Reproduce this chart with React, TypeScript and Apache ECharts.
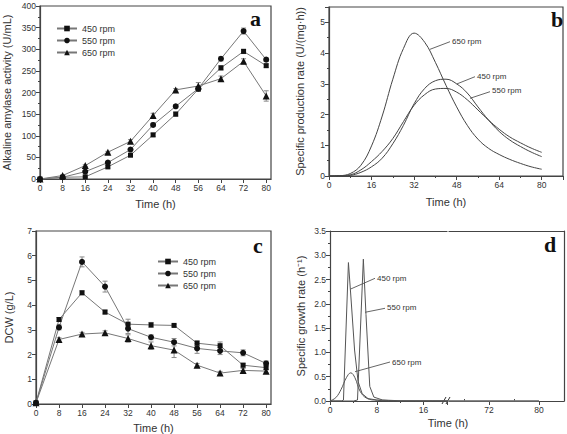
import React, { useEffect, useRef } from "react";
import * as echarts from "echarts";

// ---------- data ----------
const hours = [0, 8, 16, 24, 32, 40, 48, 56, 64, 72, 80];
const rpmNames = ["450 rpm", "550 rpm", "650 rpm"];

// (a) alkaline amylase activity (U/mL)
const activity450 = [0, 4, 5, 28, 55, 102, 150, 208, 257, 295, 262];
const activity550 = [0, 4, 17, 38, 68, 125, 168, 209, 278, 342, 276];
const activity650 = [0, 8, 31, 62, 87, 147, 206, 215, 232, 272, 192];
const activityErr450 = [0, 1, 2, 3, 3, 4, 5, 5, 5, 5, 4];
const activityErr550 = [0, 1, 2, 3, 3, 4, 4, 4, 5, 7, 4];
const activityErr650 = [0, 1, 2, 2, 4, 5, 3, 8, 6, 6, 12];

// (b) specific production rate (U/(mg·h))
const rateHours = [0, 4, 8, 12, 16, 20, 24, 28, 32, 36, 40, 44, 48, 52, 56, 60, 64, 68, 72, 76, 80];
const rate450 = [0, 0, 0.02, 0.12, 0.3, 0.58, 1.05, 1.65, 2.35, 2.85, 3.1, 3.15, 3.0, 2.7, 2.25, 1.82, 1.45, 1.17, 0.96, 0.78, 0.63];
const rate550 = [0, 0.01, 0.04, 0.2, 0.47, 0.8, 1.22, 1.77, 2.3, 2.65, 2.83, 2.85, 2.73, 2.48, 2.15, 1.82, 1.52, 1.27, 1.08, 0.91, 0.77];
const rate650 = [0, 0.01, 0.08, 0.35, 0.98, 1.95, 3.15, 4.15, 4.65, 4.35, 3.7, 2.95, 2.25, 1.65, 1.2, 0.9, 0.7, 0.54, 0.41, 0.3, 0.22];

// (c) DCW (g/L)
const dcw450 = [0.05, 3.42, 4.5, 3.72, 3.23, 3.2, 3.18, 2.46, 2.36, 1.57, 1.47];
const dcw550 = [0.05, 3.1, 5.75, 4.75, 3.05, 2.7, 2.5, 2.25, 2.15, 2.07, 1.64];
const dcw650 = [0.05, 2.61, 2.83, 2.88, 2.65, 2.36, 2.18, 1.57, 1.25, 1.36, 1.33];
const dcwErr450 = [0, 0.08, 0.08, 0.08, 0.2, 0.1, 0.05, 0.1, 0.15, 0.08, 0.08];
const dcwErr550 = [0, 0.1, 0.2, 0.22, 0.2, 0.1, 0.15, 0.2, 0.15, 0.12, 0.1];
const dcwErr650 = [0, 0.07, 0.07, 0.08, 0.15, 0.15, 0.3, 0.07, 0.07, 0.08, 0.07];

// (d) specific growth rate (h-1)
const growthT450 = [0, 1, 2, 2.3, 3.15, 3.6, 4.2, 4.8, 5.5, 6.5, 8, 10, 12, 24, 80];
const growth450 = [0, 0, 0, 0.02, 2.85, 2.1, 1.05, 0.4, 0.15, 0.05, 0.02, 0.01, 0, 0, 0];
const growthT550 = [0, 4, 4.7, 5.7, 6.15, 6.8, 7.5, 9, 12, 24, 80];
const growth550 = [0, 0, 0.02, 2.92, 1.78, 0.3, 0.08, 0.02, 0.005, 0, 0];
const growthT650 = [0, 1, 1.9, 2.8, 3.55, 4.26, 5.15, 6.3, 8.1, 11, 24, 80];
const growth650 = [0, 0.07, 0.24, 0.48, 0.58, 0.48, 0.2, 0.055, 0.015, 0, 0, 0];

const xLabelsBreakRight = [72, 80];
const xMinorBreakRight = [68, 76];

// ---------- styling ----------
const FONT = "Liberation Sans";
const AXIS = "#444";
const TXT = "#333";
const symbols = ["rect", "circle", "triangle"];
const symbolSizes = [5, 6, 7];

const pairs = (xs: number[], ys: number[]) => xs.map((x, i) => [x, ys[i]]);
const triples = (xs: number[], ys: number[], es: number[]) => xs.map((x, i) => [x, ys[i], es[i]]);

const minor = { show: true, splitNumber: 2, length: 2, lineStyle: { color: AXIS } };

function axis(o: any) {
  return {
    type: "value",
    axisLine: { show: true, onZero: false, lineStyle: { color: AXIS, width: 1.2 } },
    axisTick: { show: true, length: 4, lineStyle: { color: AXIS, width: 1 } },
    splitLine: { show: false },
    axisLabel: { fontFamily: FONT, fontSize: 8.5, color: TXT, margin: 4, showMaxLabel: false },
    nameLocation: "middle",
    nameTextStyle: { fontFamily: FONT, fontSize: 11, color: TXT },
    ...o,
  };
}

function errorSeries(xi: number, yi: number, data: number[][]) {
  return {
    type: "custom",
    xAxisIndex: xi,
    yAxisIndex: yi,
    silent: true,
    z: 1,
    data,
    renderItem: (params: any, api: any) => {
      const x = api.value(0);
      const y = api.value(1);
      const e = api.value(2);
      const hi = api.coord([x, y + e]);
      const lo = api.coord([x, y - e]);
      const w = 2.5;
      const st = { stroke: "#8a8a8a", lineWidth: 1 };
      return {
        type: "group",
        children: [
          { type: "line", shape: { x1: hi[0], y1: hi[1], x2: lo[0], y2: lo[1] }, style: st },
          { type: "line", shape: { x1: hi[0] - w, y1: hi[1], x2: hi[0] + w, y2: hi[1] }, style: st },
          { type: "line", shape: { x1: lo[0] - w, y1: lo[1], x2: lo[0] + w, y2: lo[1] }, style: st },
        ],
      };
    },
  };
}

function markerLine(name: string, k: number, xi: number, yi: number, data: number[][]) {
  return {
    type: "line",
    name,
    xAxisIndex: xi,
    yAxisIndex: yi,
    data,
    z: 3,
    symbol: symbols[k],
    symbolSize: symbolSizes[k],
    itemStyle: { color: "#111" },
    lineStyle: { color: "#777", width: 1 },
  };
}

function curve(xi: number, yi: number, data: number[][], smooth: any, color: string) {
  return {
    type: "line",
    xAxisIndex: xi,
    yAxisIndex: yi,
    data,
    smooth,
    showSymbol: false,
    symbol: "none",
    clip: true,
    lineStyle: { color, width: 1 },
  };
}

function label(text: string, x: number, y: number, lx1: number, ly1: number, lx2: number, ly2: number) {
  return [
    { type: "line", shape: { x1: lx1, y1: ly1, x2: lx2, y2: ly2 }, style: { stroke: "#666", lineWidth: 1 } },
    { type: "text", x, y, style: { text, fontFamily: FONT, fontSize: 8, fill: TXT, verticalAlign: "middle" } },
  ];
}

function letter(text: string, x: number, y: number) {
  return {
    type: "text",
    x,
    y,
    style: { text, fontFamily: "Liberation Serif", fontWeight: "bold", fontSize: 22, fill: "#111", verticalAlign: "middle" },
  };
}

const gridBox = { show: true, borderColor: AXIS, borderWidth: 1.2, backgroundColor: "transparent" };

export default function App() {
  const ref = useRef<HTMLDivElement>(null);
  useEffect(() => {
    if (!ref.current) return;
    const chart = echarts.init(ref.current, null, { renderer: "svg" });
    const legendCommon = {
      orient: "vertical",
      itemWidth: 20,
      itemHeight: 7,
      itemGap: 1,
      data: rpmNames,
      selectedMode: false,
      textStyle: { fontFamily: FONT, fontSize: 9, color: TXT, lineHeight: 11 },
    };
    const option: any = {
      animation: false,
      backgroundColor: "#fff",
      grid: [
        { left: 36, top: 6, width: 235, height: 173, ...gridBox },
        { left: 329, top: 7, width: 234, height: 169, ...gridBox },
        { left: 36, top: 231, width: 235, height: 173, ...gridBox },
        { left: 330, top: 231, width: 117, height: 170 },
        { left: 449, top: 231, width: 115, height: 170 },
      ],
      legend: [
        { ...legendCommon, left: 51, top: 18 },
        { ...legendCommon, left: 152, top: 251 },
      ],
      xAxis: [
        axis({ gridIndex: 0, min: 0, max: 81.7, interval: 8, name: "Time (h)", nameGap: 19 }),
        axis({ gridIndex: 1, min: 0, max: 88, interval: 16, name: "Time (h)", nameGap: 20, minorTick: minor }),
        axis({ gridIndex: 2, min: 0, max: 81.7, interval: 8, name: "Time (h)", nameGap: 18 }),
        axis({ gridIndex: 3, min: 0, max: 20, interval: 8, minorTick: minor }),
        axis({
          gridIndex: 4, min: 65.6, max: 84,
          axisLabel: { fontFamily: FONT, fontSize: 8.5, color: TXT, margin: 4, customValues: xLabelsBreakRight },
          axisTick: { show: true, length: 4, lineStyle: { color: AXIS }, customValues: xLabelsBreakRight },
        }),
        axis({
          gridIndex: 4, min: 65.6, max: 84,
          axisLine: { show: false },
          axisLabel: { show: false },
          axisTick: { show: true, length: 2, lineStyle: { color: AXIS }, customValues: xMinorBreakRight },
        }),
        axis({ gridIndex: 3, min: 0, max: 20, position: "top", axisTick: { show: false }, axisLabel: { show: false } }),
        axis({ gridIndex: 4, min: 65.6, max: 84, position: "top", axisTick: { show: false }, axisLabel: { show: false } }),
      ],
      yAxis: [
        axis({ gridIndex: 0, min: 0, max: 400, interval: 50, name: "Alkaline amylase activity (U/mL)", nameGap: 28, minorTick: minor, axisLabel: { fontFamily: FONT, fontSize: 8.5, color: TXT, margin: 4 } }),
        axis({ gridIndex: 1, min: 0, max: 5.5, interval: 1, name: "Specific production rate (U/(mg·h))", nameGap: 24, minorTick: minor }),
        axis({ gridIndex: 2, min: 0, max: 7, interval: 1, name: "DCW (g/L)", nameGap: 22, axisLabel: { fontFamily: FONT, fontSize: 8.5, color: TXT, margin: 4 } }),
        axis({
          gridIndex: 3, min: 0, max: 3.5, interval: 0.5, name: "Specific growth rate (h⁻¹)", nameGap: 24,
          axisLabel: { fontFamily: FONT, fontSize: 8.5, color: TXT, margin: 4, formatter: (v: number) => v.toFixed(1) },
          minorTick: minor,
        }),
        axis({ gridIndex: 4, min: 0, max: 3.5, interval: 0.5, position: "right", axisTick: { show: false }, axisLabel: { show: false } }),
      ],
      series: [
        // (a)
        errorSeries(0, 0, triples(hours, activity450, activityErr450)),
        errorSeries(0, 0, triples(hours, activity550, activityErr550)),
        errorSeries(0, 0, triples(hours, activity650, activityErr650)),
        markerLine(rpmNames[0], 0, 0, 0, pairs(hours, activity450)),
        markerLine(rpmNames[1], 1, 0, 0, pairs(hours, activity550)),
        markerLine(rpmNames[2], 2, 0, 0, pairs(hours, activity650)),
        // (b)
        curve(1, 1, pairs(rateHours, rate450), 0.4, "#444"),
        curve(1, 1, pairs(rateHours, rate550), 0.4, "#444"),
        curve(1, 1, pairs(rateHours, rate650), 0.4, "#444"),
        // (c)
        errorSeries(2, 2, triples(hours, dcw450, dcwErr450)),
        errorSeries(2, 2, triples(hours, dcw550, dcwErr550)),
        errorSeries(2, 2, triples(hours, dcw650, dcwErr650)),
        markerLine(rpmNames[0], 0, 2, 2, pairs(hours, dcw450)),
        markerLine(rpmNames[1], 1, 2, 2, pairs(hours, dcw550)),
        markerLine(rpmNames[2], 2, 2, 2, pairs(hours, dcw650)),
        // (d) left segment
        curve(3, 3, pairs(growthT450, growth450), false, "#555"),
        curve(3, 3, pairs(growthT550, growth550), false, "#555"),
        curve(3, 3, pairs(growthT650, growth650), 0.4, "#555"),
        // (d) right segment
        curve(4, 4, pairs(growthT450, growth450), false, "#777"),
        curve(4, 4, pairs(growthT550, growth550), false, "#777"),
        curve(4, 4, pairs(growthT650, growth650), false, "#777"),
      ],
      graphic: [
        letter("a", 250, 18),
        letter("b", 551, 19.5),
        letter("c", 253, 245.5),
        letter("d", 544, 244.5),
        ...label("650 rpm", 452, 41.7, 430, 49.3, 450, 41.7),
        ...label("450 rpm", 477, 76, 456.7, 84, 475, 76.7),
        ...label("550 rpm", 492, 90.7, 470, 98.3, 490, 91.7),
        ...label("450 rpm", 377, 278, 350.7, 289, 375, 278.3),
        ...label("550 rpm", 387, 307.5, 365, 312.3, 385, 308.3),
        ...label("650 rpm", 392, 362, 355, 371.7, 390, 362),
        { type: "line", shape: { x1: 442, y1: 404, x2: 446, y2: 397 }, style: { stroke: "#333", lineWidth: 1 } },
        { type: "line", shape: { x1: 446, y1: 404, x2: 450, y2: 397 }, style: { stroke: "#333", lineWidth: 1 } },
        { type: "text", x: 448, y: 423, style: { text: "Time (h)", fontFamily: FONT, fontSize: 11, fill: TXT, align: "center", verticalAlign: "middle" } },
      ],
    };
    chart.setOption(option);
    return () => chart.dispose();
  }, []);
  return <div ref={ref} style={{ position: "fixed", left: 0, top: 0, width: 567, height: 434, background: "#fff" }} />;
}
